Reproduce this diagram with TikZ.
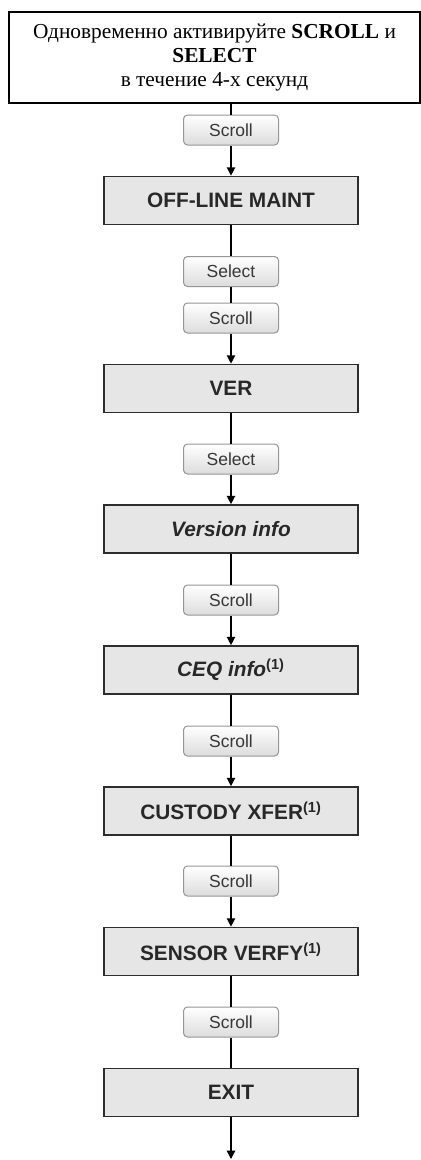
\documentclass[tikz,border=0pt]{standalone}
\usepackage{fontspec}
\setmainfont{Liberation Serif}
\setsansfont{Liberation Sans}
\usetikzlibrary{arrows.meta}
\definecolor{mtGray}{RGB}{230,230,230}
\definecolor{mtEdge}{RGB}{45,45,45}
\definecolor{mtText}{RGB}{40,40,40}
\definecolor{btEdge}{RGB}{150,150,150}
\definecolor{btText}{RGB}{55,55,55}
\definecolor{btLow}{RGB}{220,220,220}

\tikzset{
  menubox/.style={draw=mtEdge, line width=1pt, fill=mtGray,
    minimum width=152.4pt, minimum height=28.8pt, inner sep=0pt,
    text=mtText, font=\sffamily\bfseries\fontsize{12.5}{14}\selectfont},
  keybtn/.style={draw=btEdge, line width=0.6pt, rounded corners=2.4pt,
    top color=white, bottom color=btLow, minimum width=57pt,
    minimum height=18pt, inner sep=0pt, text=btText,
    font=\sffamily\fontsize{10.5}{12}\selectfont},
  wire/.style={line width=0.8pt, black},
  wirearr/.style={wire, -{Triangle[length=5pt,width=5pt]}}
}

\begin{document}
\begin{tikzpicture}[x=0.6pt, y=-0.6pt]
  \useasboundingbox (0,0) rectangle (421,1160);
  \node[draw, line width=1.2pt, minimum width=246.6pt, minimum height=54.6pt,
    align=center, font=\fontsize{12.8}{14.2}\selectfont] (hint) at (214.5,57.5)
    {Одновременно активируйте \textbf{SCROLL} и\\ \textbf{SELECT}\\ в течение 4-х секунд};
  \foreach \nm/\txt/\y in {%
    offline/{OFF-LINE MAINT}/200.5,%
    ver/{VER}/388.5,%
    vinfo/{\textit{Version info}}/529,%
    ceq/{\textit{CEQ info}\textsuperscript{(1)}}/670,%
    xfer/{CUSTODY XFER\textsuperscript{(1)}}/811,%
    sensor/{SENSOR VERFY\textsuperscript{(1)}}/951.5,%
    exit/{EXIT}/1092.5%
  }{%
    \node[menubox] (\nm) at (231,\y) {\txt};
  }
  \foreach \nm/\txt/\y in {%
    kScrA/Scroll/130, kSelA/Select/271.5, kScrB/Scroll/318, kSelB/Select/459,%
    kScrC/Scroll/600, kScrD/Scroll/741, kScrE/Scroll/881, kScrF/Scroll/1022%
  }{%
    \node[keybtn] (\nm) at (231,\y) {\txt};
  }
  \coordinate (out) at (231,1159);

  \draw[wire] (hint.south -| kScrA) -- (kScrA);
  \foreach \a/\b in {offline/kSelA, kSelA/kScrB, ver/kSelB, vinfo/kScrC,
    ceq/kScrD, xfer/kScrE, sensor/kScrF, kScrF/exit}
    \draw[wire] (\a) -- (\b);
  \foreach \a/\b in {kScrA/offline, kScrB/ver, kSelB/vinfo, kScrC/ceq,
    kScrD/xfer, kScrE/sensor, exit/out}
    \draw[wirearr] (\a) -- (\b);
\end{tikzpicture}
\end{document}
